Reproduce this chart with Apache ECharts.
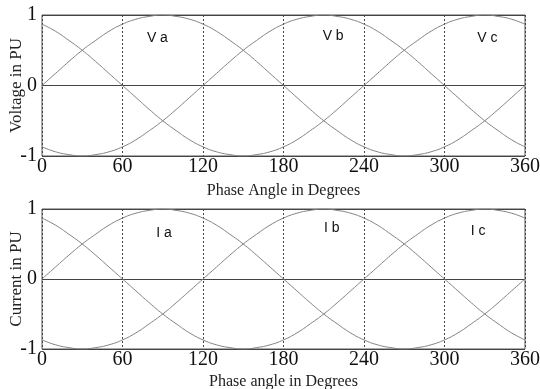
<!DOCTYPE html>
<html>
<head>
<meta charset="utf-8">
<script src="https://cdn.jsdelivr.net/npm/echarts@6/dist/echarts.min.js"></script>
<style>
  html, body { margin: 0; padding: 0; background: #fff; }
  #main { width: 540px; height: 389px; }
</style>
</head>
<body>
<div id="main"></div>
<script>
// phase angle, degrees
var angles = [0, 10, 20, 30, 40, 50, 60, 70, 80, 90, 100, 110, 120, 130, 140, 150, 160, 170, 180,
  190, 200, 210, 220, 230, 240, 250, 260, 270, 280, 290, 300, 310, 320, 330, 340, 350, 360];
var xTicks = [0, 60, 120, 180, 240, 300, 360];
var yTicks = [-1, 0, 1];

// voltage (PU)
var va = [0, .17, .34, .5, .64, .77, .87, .94, .98, 1, .98, .94, .87, .77, .64, .5, .34, .17, 0,
  -.17, -.34, -.5, -.64, -.77, -.87, -.94, -.98, -1, -.98, -.94, -.87, -.77, -.64, -.5, -.34, -.17, 0];
var vb = [-.87, -.94, -.98, -1, -.98, -.94, -.87, -.77, -.64, -.5, -.34, -.17, 0, .17, .34, .5, .64, .77, .87,
  .94, .98, 1, .98, .94, .87, .77, .64, .5, .34, .17, 0, -.17, -.34, -.5, -.64, -.77, -.87];
var vc = [.87, .77, .64, .5, .34, .17, 0, -.17, -.34, -.5, -.64, -.77, -.87, -.94, -.98, -1, -.98, -.94, -.87,
  -.77, -.64, -.5, -.34, -.17, 0, .17, .34, .5, .64, .77, .87, .94, .98, 1, .98, .94, .87];

// current (PU)
var ia = [0, .17, .34, .5, .64, .77, .87, .94, .98, 1, .98, .94, .87, .77, .64, .5, .34, .17, 0,
  -.17, -.34, -.5, -.64, -.77, -.87, -.94, -.98, -1, -.98, -.94, -.87, -.77, -.64, -.5, -.34, -.17, 0];
var ib = [-.87, -.94, -.98, -1, -.98, -.94, -.87, -.77, -.64, -.5, -.34, -.17, 0, .17, .34, .5, .64, .77, .87,
  .94, .98, 1, .98, .94, .87, .77, .64, .5, .34, .17, 0, -.17, -.34, -.5, -.64, -.77, -.87];
var ic = [.87, .77, .64, .5, .34, .17, 0, -.17, -.34, -.5, -.64, -.77, -.87, -.94, -.98, -1, -.98, -.94, -.87,
  -.77, -.64, -.5, -.34, -.17, 0, .17, .34, .5, .64, .77, .87, .94, .98, 1, .98, .94, .87];

// label anchors [angle, value]
var voltLabels = [['V a', 86, 0.67], ['V b', 217, 0.70], ['V c', 332, 0.67]];
var currLabels = [['I a', 91, 0.65], ['I b', 216, 0.72], ['I c', 325, 0.69]];

var serif = 'Liberation Serif';
var sans = 'Liberation Sans';

var myChart = echarts.init(document.getElementById('main'));

function pairs(vals) {
  return angles.map(function (a, i) { return [a, vals[i]]; });
}

function xAxis(idx, name, gap) {
  return {
    type: 'value', gridIndex: idx, min: 0, max: 360, interval: 60,
    name: name, nameLocation: 'middle', nameGap: gap, nameMoveOverlap: false,
    nameTextStyle: { fontFamily: serif, fontSize: 16, color: '#222' },
    axisLine: { show: false }, axisTick: { show: false },
    axisLabel: { fontFamily: serif, fontSize: 20, color: '#111', margin: 1 },
    splitLine: { show: true, lineStyle: { color: '#444', type: [2, 2], width: 1 } }
  };
}

function yAxis(idx, name) {
  return {
    type: 'value', gridIndex: idx, min: -1, max: 1, interval: 1,
    name: name, nameLocation: 'middle', nameGap: 17, nameMoveOverlap: false,
    nameTextStyle: { fontFamily: serif, fontSize: 17, color: '#222' },
    axisLine: { show: false }, axisTick: { show: false },
    axisLabel: { fontFamily: serif, fontSize: 20, color: '#111', margin: 5 },
    splitLine: { show: true, lineStyle: { color: '#444', width: 1 } }
  };
}

function curve(vals, idx, labels, k) {
  var l = labels[k];
  return {
    type: 'line', xAxisIndex: idx, yAxisIndex: idx,
    data: pairs(vals), smooth: true, symbol: 'none', silent: true,
    lineStyle: { color: '#808080', width: 1 },
    markPoint: {
      symbol: 'circle', symbolSize: 1, silent: true,
      itemStyle: { color: 'rgba(0,0,0,0)' },
      label: { show: true, position: 'inside', formatter: l[0], fontFamily: sans, fontSize: 14, color: '#111' },
      data: [{ coord: [l[1], l[2]] }]
    }
  };
}

option = {
  animation: false,
  backgroundColor: '#fff',
  grid: [
    { left: 42, right: 15, top: 15, height: 141, show: true, borderColor: '#555', borderWidth: 1,
      outerBoundsMode: 'none', containLabel: false },
    { left: 42, right: 15, top: 209, height: 140, show: true, borderColor: '#555', borderWidth: 1,
      outerBoundsMode: 'none', containLabel: false }
  ],
  xAxis: [xAxis(0, 'Phase Angle in Degrees', 27), xAxis(1, 'Phase angle in Degrees', 25)],
  yAxis: [yAxis(0, 'Voltage in PU'), yAxis(1, 'Current in PU')],
  series: [
    curve(va, 0, voltLabels, 0),
    curve(vb, 0, voltLabels, 1),
    curve(vc, 0, voltLabels, 2),
    curve(ia, 1, currLabels, 0),
    curve(ib, 1, currLabels, 1),
    curve(ic, 1, currLabels, 2)
  ]
};

myChart.setOption(option);
</script>
</body>
</html>
